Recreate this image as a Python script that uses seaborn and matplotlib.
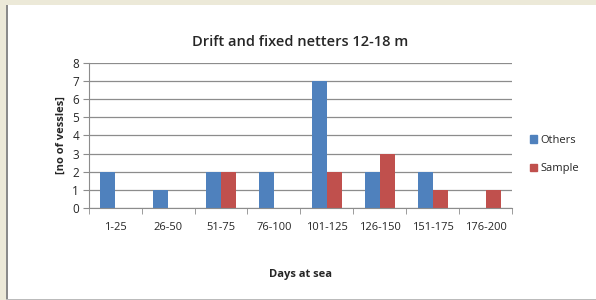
import matplotlib.pyplot as plt
import matplotlib.patches as mpatches
import pandas as pd
import seaborn as sns

categories = ['1-25', '26-50', '51-75', '76-100', '101-125', '126-150', '151-175', '176-200']
others = [2, 1, 2, 2, 7, 2, 2, 0]
sample = [0, 0, 2, 0, 2, 3, 1, 1]
series = ['Others', 'Sample']
colors = ['#4F81BD', '#C0504D']

df = pd.DataFrame({
    'days': categories * 2,
    'vessels': others + sample,
    'series': ['Others'] * len(categories) + ['Sample'] * len(categories),
})

sns.set_style('white')
plt.rcParams['font.family'] = ['Open Sans', 'DejaVu Sans']

fig = plt.figure(figsize=(5.96, 3.0), dpi=100)
fig.patches.append(mpatches.Rectangle((0, 0), 6 / 596, 1, transform=fig.transFigure,
                                      facecolor='#ECE9D8', edgecolor='none'))
fig.patches.append(mpatches.Rectangle((0, 1 - 5 / 300), 1, 5 / 300, transform=fig.transFigure,
                                      facecolor='#ECE9D8', edgecolor='none'))
fig.patches.append(mpatches.Rectangle((6 / 596, 0), 1.5 / 596, 1 - 5 / 300, transform=fig.transFigure,
                                      facecolor='#8A8A8A', edgecolor='none'))
fig.patches.append(mpatches.Rectangle((6 / 596, 0), 1, 1.5 / 300, transform=fig.transFigure,
                                      facecolor='#BBBBBB', edgecolor='none'))

ax = fig.add_axes([0.149, 0.307, 0.710, 0.483])
sns.barplot(data=df, x='days', y='vessels', hue='series', hue_order=series,
            palette=colors, width=0.57, saturation=1, linewidth=0, ax=ax, legend=False)

ax.set_ylim(0, 8)
ax.set_yticks(range(0, 9))
ax.set_xlim(-0.5, len(categories) - 0.5)
ax.yaxis.grid(True, color='#8C8C8C', linewidth=0.9)
ax.set_axisbelow(True)
for side in ['top', 'right']:
    ax.spines[side].set_visible(False)
ax.spines['left'].set_color('#8C8C8C')
ax.spines['bottom'].set_color('#8C8C8C')

ax.tick_params(axis='y', which='major', length=4, color='#8C8C8C', labelsize=8.5, left=True, pad=3)
ax.tick_params(axis='x', which='major', length=0, labelsize=8, pad=10)
ax.set_xticks([i - 0.5 for i in range(len(categories) + 1)], minor=True)
ax.tick_params(axis='x', which='minor', length=4, color='#8C8C8C', bottom=True)
ax.set_xticks(range(len(categories)))
ax.set_xticklabels(categories)

ax.set_ylabel('[no of vessles]', fontsize=8, fontweight='bold', labelpad=4)
ax.set_xlabel('Days at sea', fontsize=8, fontweight='bold', labelpad=26)
ax.set_title('Drift and fixed netters 12-18 m', fontsize=10.5, fontweight='semibold', pad=12)

handles = [mpatches.Patch(color=c, label=s) for c, s in zip(colors, series)]
fig.legend(handles=handles, loc='center left', bbox_to_anchor=(0.872, 0.485),
           frameon=False, fontsize=8, handlelength=0.7, handleheight=0.7,
           handletextpad=0.3, labelspacing=1.6)

fig.savefig('out.png', dpi=100)
